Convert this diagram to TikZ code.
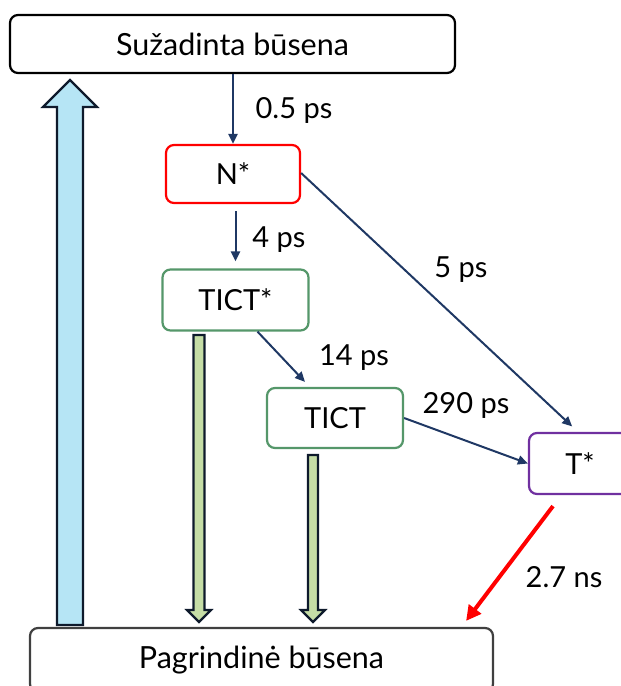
\documentclass[tikz,border=0pt]{standalone}
\usepackage{fontspec}
\setmainfont{Lato}
\usetikzlibrary{arrows.meta}
\definecolor{navy}{HTML}{1F3864}
\definecolor{boxgreen}{HTML}{55976A}
\definecolor{tpurple}{HTML}{7030A0}
\definecolor{dgray}{HTML}{404040}
\definecolor{lblue}{HTML}{B6E5F5}
\definecolor{lgreen}{HTML}{C5DDA6}
\definecolor{outl}{HTML}{0E1A2C}
\tikzset{
  state/.style={draw, line width=2.2pt, rounded corners=8pt, fill=white, inner sep=0pt, font=\fontsize{29}{32}\selectfont},
  lbl/.style={font=\fontsize{29}{32}\selectfont, inner sep=0pt},
  flow/.style={draw=navy, line width=2pt, -{Triangle[length=10pt,width=9pt]}},
  block/.style={draw=outl, line width=2.2pt, line join=miter},
}
\begin{document}
\begin{tikzpicture}[x=1pt,y=-1pt]
\useasboundingbox (0,0) rectangle (621,686);
% states
\node[state, draw=black, minimum width=445pt, minimum height=58pt, font=\fontsize{30.5}{33}\selectfont] (exc) at (232.5,44) {Sužadinta būsena};
\node[state, draw=red, minimum width=134pt, minimum height=58pt] (N) at (233,174) {N*};
\node[state, draw=boxgreen, minimum width=146pt, minimum height=61pt] (TS) at (235.5,300) {TICT*};
\node[state, draw=boxgreen, minimum width=136pt, minimum height=60pt] (T) at (335,418) {TICT};
\node[state, draw=tpurple, minimum width=102pt, minimum height=61pt] (Tst) at (580,463.5) {T*};
\node[state, draw=dgray, minimum width=463pt, minimum height=64pt, font=\fontsize{30.5}{33}\selectfont] (gnd) at (261.5,660) {Pagrindinė būsena};
% block arrows
\draw[block, fill=lblue] (57,625) -- (57,107) -- (43,107) -- (70,80) -- (97,107) -- (83,107) -- (83,625) -- cycle;
\draw[block, fill=lgreen] (193.5,335) -- (204.5,335) -- (204.5,610) -- (211,610) -- (199,622) -- (187,610) -- (193.5,610) -- cycle;
\draw[block, fill=lgreen] (308,455) -- (318,455) -- (318,610) -- (325,610) -- (313,622) -- (301,610) -- (308,610) -- cycle;
% connectors
\draw[flow] (exc.south -| N.north) -- (N.north);
\draw[flow, shorten <=7pt, shorten >=7pt] (N.south -| TS.north) -- (TS.north);
\draw[flow] ([xshift=22pt]TS.south) -- ([xshift=-30pt,yshift=5pt]T.north);
\draw[flow] (T.east) -- (Tst.west);
\draw[flow, shorten >=8pt] ([yshift=1pt]N.east) -- ([xshift=-2pt]Tst.north);
\draw[draw=red, line width=4pt, -{Triangle[length=15pt,width=15pt]}] ([xshift=-27pt,yshift=-11pt]Tst.south) -- ([xshift=-28pt,yshift=6pt]gnd.north east);
% labels
\node[lbl] (l05) at (294,110) {0.5 ps};
\node[lbl] (l4) at (279,240) {4 ps};
\node[lbl] (l5) at (461,270) {5 ps};
\node[lbl] (l14) at (354,358) {14 ps};
\node[lbl] (l290) at (466,405) {290 ps};
\node[lbl] (l27) at (564,577) {2.7 ns};
\end{tikzpicture}
\end{document}
